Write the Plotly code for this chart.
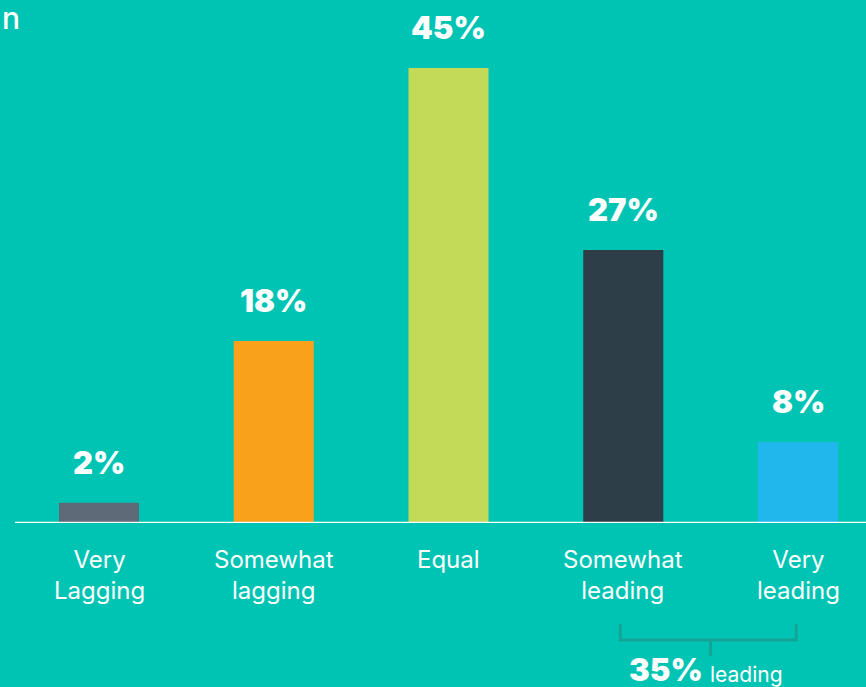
import plotly.graph_objects as go

# Survey responses by category
categories = ["Very<br>Lagging", "Somewhat<br>lagging", "Equal", "Somewhat<br>leading", "Very<br>leading"]
values = [2, 18, 45, 27, 8]
value_labels = ["2%", "18%", "45%", "27%", "8%"]
bar_colors = ["#5E6A77", "#F9A11B", "#C3D958", "#2E3E48", "#22B7EC"]
leading_total = "35%"

BG = "#00C4B3"
W, H = 866, 687
BASE_PX = 523  # vertical pixel position of the zero line

HEAVY = dict(family="Inter", size=31, color="white", weight=900)
LIGHT = "Inter"

fig = go.Figure(
    go.Bar(
        x=list(range(len(categories))),
        y=values,
        marker=dict(color=bar_colors, line=dict(width=0)),
        width=0.458,
        hoverinfo="skip",
    )
)

# value labels above bars
for i, (v, lab) in enumerate(zip(values, value_labels)):
    fig.add_annotation(
        x=i, y=v, text=lab, showarrow=False, yanchor="bottom", yshift=20,
        font=HEAVY,
    )

# category labels below the axis
for i, cat in enumerate(categories):
    fig.add_annotation(
        x=i, y=0, text=cat, showarrow=False, yanchor="top", yshift=-20,
        font=dict(family=LIGHT, size=24, color="white", weight=400),
    )

# zero line
fig.add_shape(type="line", xref="paper", yref="y", x0=15 / W, x1=1, y0=0, y1=0,
              line=dict(color="white", width=2.5), layer="above")

# bracket grouping the two "leading" categories
plot_h = BASE_PX


def py(p):
    return (BASE_PX - p) / plot_h


bc = "#14A497"
fig.add_shape(type="path", xref="x", yref="paper",
              path=f"M 2.983,{py(624)} L 2.983,{py(640)} L 3.990,{py(640)} L 3.990,{py(624)}",
              line=dict(color=bc, width=3))
fig.add_shape(type="line", xref="x", yref="paper", x0=3.5, x1=3.5, y0=py(640), y1=py(656),
              line=dict(color=bc, width=3))
fig.add_annotation(x=3.5, y=py(690), xref="x", yref="paper", text=leading_total,
                   showarrow=False, xanchor="right", yanchor="bottom", xshift=-6,
                   font=HEAVY)
fig.add_annotation(x=3.5, y=py(689), xref="x", yref="paper", text="leading",
                   showarrow=False, xanchor="left", yanchor="bottom", xshift=-3,
                   font=dict(family=LIGHT, size=21, color="white", weight=400))

# clipped heading fragment at top-left
fig.add_annotation(x=0, y=1, xref="paper", yref="paper", text="n", showarrow=False,
                   xanchor="left", yanchor="top", xshift=0, yshift=2,
                   font=dict(family="Inter", size=30, color="white", weight=500))

ymax = 45 * BASE_PX / (BASE_PX - 68)
fig.update_layout(
    width=W, height=H,
    margin=dict(l=0, r=0, t=0, b=H - BASE_PX),
    paper_bgcolor=BG, plot_bgcolor=BG,
    showlegend=False,
    xaxis=dict(range=[-0.5665, 4.389], visible=False, fixedrange=True),
    yaxis=dict(range=[0, ymax], visible=False, fixedrange=True),
)

fig.write_html("out.html")
